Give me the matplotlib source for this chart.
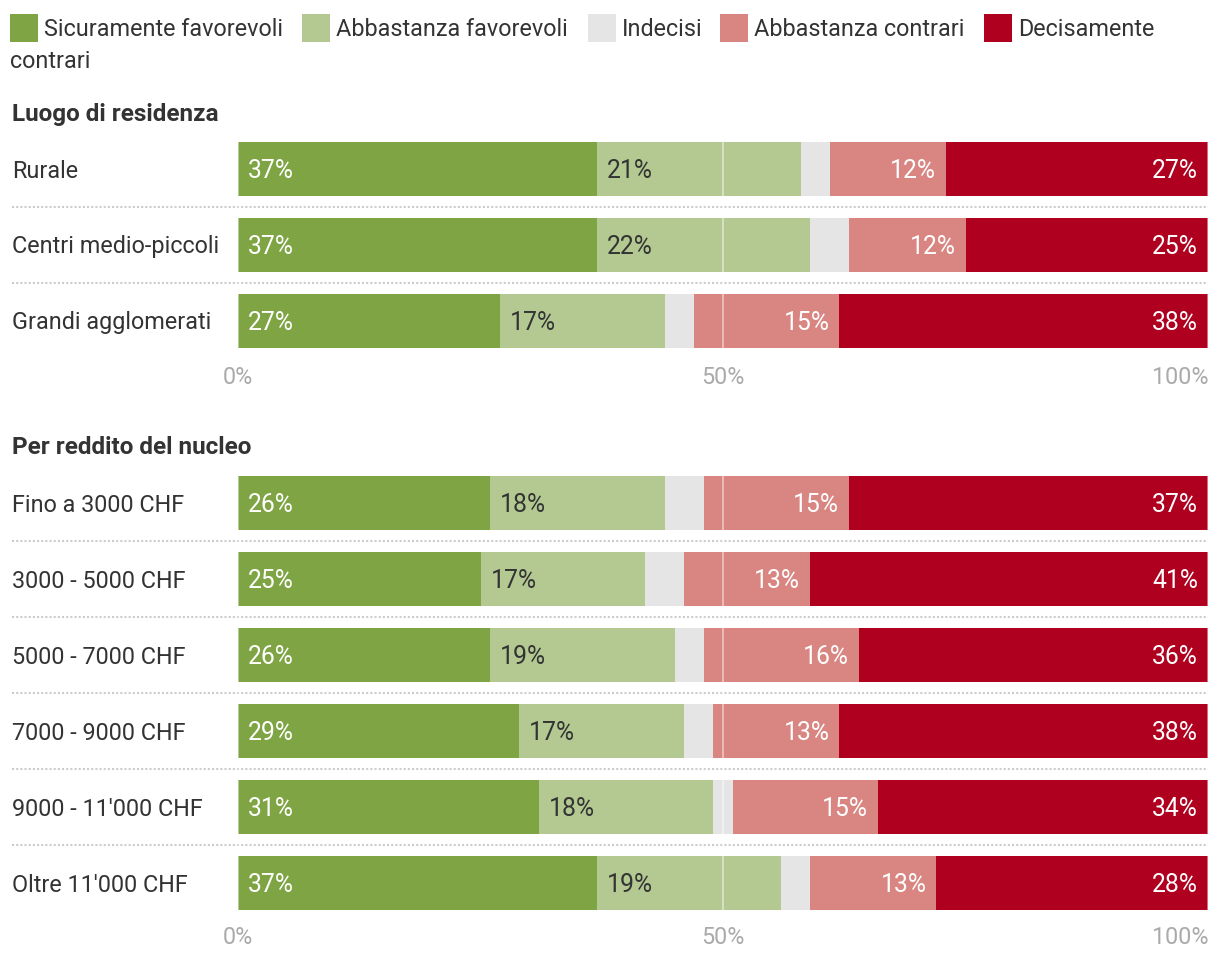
import matplotlib
matplotlib.use("Agg")
import matplotlib.pyplot as plt
from matplotlib.patches import Rectangle
from matplotlib.transforms import blended_transform_factory as btf, offset_copy

plt.rcParams['font.family'] = ['Roboto', 'DejaVu Sans']

# ---- data ----
series = ["Sicuramente favorevoli", "Abbastanza favorevoli", "Indecisi",
          "Abbastanza contrari", "Decisamente contrari"]
colors = ["#7ea443", "#b3c991", "#e5e5e5", "#d98682", "#b0001f"]

group1_title = "Luogo di residenza"
group1_labels = ["Rurale", "Centri medio-piccoli", "Grandi agglomerati"]
g1_sicur = [37, 37, 27]
g1_abb_fav = [21, 22, 17]
g1_indec = [3, 4, 3]
g1_abb_con = [12, 12, 15]
g1_decis = [27, 25, 38]

group2_title = "Per reddito del nucleo"
group2_labels = ["Fino a 3000 CHF", "3000 - 5000 CHF", "5000 - 7000 CHF",
                 "7000 - 9000 CHF", "9000 - 11'000 CHF", "Oltre 11'000 CHF"]
g2_sicur = [26, 25, 26, 29, 31, 37]
g2_abb_fav = [18, 17, 19, 17, 18, 19]
g2_indec = [4, 4, 3, 3, 2, 3]
g2_abb_con = [15, 13, 16, 13, 15, 13]
g2_decis = [37, 41, 36, 38, 34, 28]

tick_vals = [0, 50, 100]
tick_labels = ["0%", "50%", "100%"]

# ---- layout ----
W, H = 1220, 960
fig = plt.figure(figsize=(W / 100, H / 100), dpi=100)
fig.patch.set_facecolor("white")

def fx(x):
    return x / W

def fy(y):
    return 1 - y / H

FS = 16.8          # text size (pt)
VFS = 17.8         # value label size (pt)
DY = 2             # downward text nudge (px)
TXT = "#333333"
ROW = 76
BAR_H = 54 / ROW
X0, X1 = 238, 1208

def panel(top, labels, vals, title, title_y, tick_y):
    n = len(labels)
    bottom = top + n * ROW
    ax = fig.add_axes([fx(X0), fy(bottom), fx(X1) - fx(X0), (bottom - top) / H])
    ax.set_xlim(0, 100)
    ax.set_ylim(n - 0.5, -0.5)
    ax.axis("off")
    ys = list(range(n))
    left = [0] * n
    for si, (sv, col) in enumerate(zip(vals, colors)):
        ax.barh(ys, sv, left=left, height=BAR_H, color=col, edgecolor="none", zorder=2)
        for i in range(n):
            v = sv[i]
            if si == 0:
                ax.annotate(f"{v}%", (left[i], i), xytext=(10, -DY), textcoords="offset pixels",
                            ha="left", va="center", color="white", fontsize=VFS, zorder=5)
            elif si == 1:
                ax.annotate(f"{v}%", (left[i], i), xytext=(10, -DY), textcoords="offset pixels",
                            ha="left", va="center", color=TXT, fontsize=VFS, zorder=5)
            elif si in (3, 4):
                ax.annotate(f"{v}%", (left[i] + v, i), xytext=(-10, -DY), textcoords="offset pixels",
                            ha="right", va="center", color="white", fontsize=VFS, zorder=5)
        left = [l + v for l, v in zip(left, sv)]
    # gridlines over bars
    for t in tick_vals:
        ax.axvline(t, color="white", alpha=0.45, lw=1.4, zorder=3)
    # row labels and separators
    tr = btf(fig.transFigure, ax.transData)
    trl = offset_copy(tr, fig=fig, x=0, y=-DY, units="dots")
    for i, lab in enumerate(labels):
        ax.text(fx(12), i, lab, transform=trl, ha="left", va="center", color=TXT, fontsize=FS)
    for i in range(n - 1):
        ax.plot([fx(12), fx(X1)], [i + 0.5, i + 0.5], transform=tr, color="#cccccc",
                lw=1.5, linestyle=(0, (1, 1)), clip_on=False, zorder=1)
    # title
    fig.text(fx(12), fy(title_y + DY), title, ha="left", va="center", color=TXT,
             fontsize=FS * 1.04, fontweight="bold")
    # ticks
    trt = btf(ax.transData, fig.transFigure)
    for t, tl in zip(tick_vals, tick_labels):
        ha = "center" if t < 100 else "right"
        ax.text(t, fy(tick_y + DY), tl, transform=trt, ha=ha, va="center", color="#aaaaaa",
                fontsize=FS)
    return ax

panel(131, group1_labels, [g1_sicur, g1_abb_fav, g1_indec, g1_abb_con, g1_decis],
      group1_title, 112, 375)
panel(465, group2_labels, [g2_sicur, g2_abb_fav, g2_indec, g2_abb_con, g2_decis],
      group2_title, 446, 935)

# ---- legend ----
leg_sq_x = [10, 302, 588, 720, 984]
for xs, col, name in zip(leg_sq_x, colors, series):
    fig.patches.append(Rectangle((fx(xs), fy(42)), 28 / W, 28 / H, transform=fig.transFigure,
                                 facecolor=col, edgecolor="none"))
    if name == "Decisamente contrari":
        fig.text(fx(xs + 34), fy(27 + DY), "Decisamente", ha="left", va="center", color=TXT, fontsize=FS)
        fig.text(fx(10), fy(60 + DY), "contrari", ha="left", va="center", color=TXT, fontsize=FS)
    else:
        fig.text(fx(xs + 34), fy(27 + DY), name, ha="left", va="center", color=TXT, fontsize=FS)

fig.savefig("out.png", dpi=100, facecolor="white")
